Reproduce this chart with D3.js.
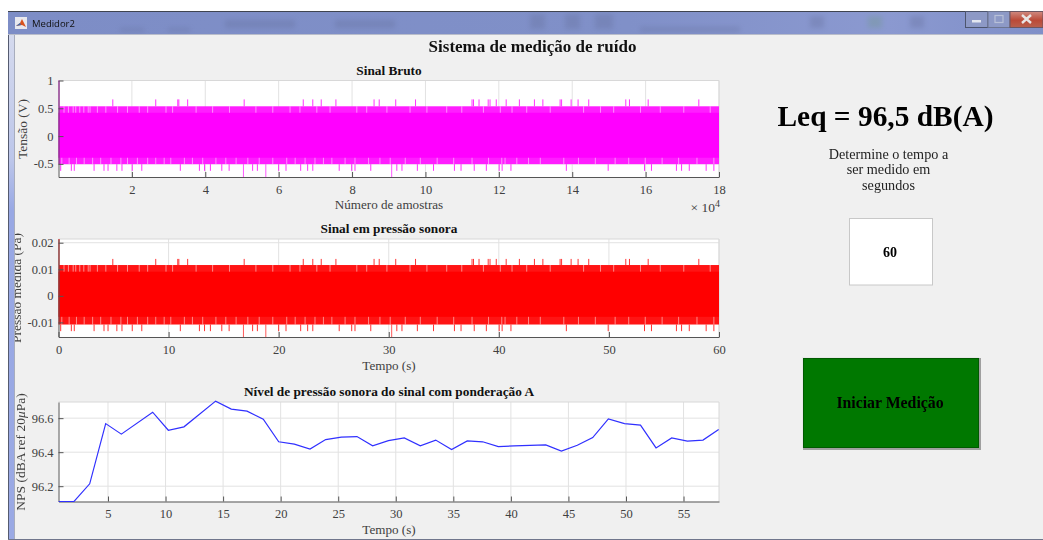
<!DOCTYPE html>
<meta charset="utf-8">
<style>
  body { margin: 0; background: #fff; }
  text { font-family: "Liberation Serif", serif; }
  svg { filter: blur(0.35px); }
</style>

<!-- Load d3.js -->
<script src="https://d3js.org/d3.v7.min.js"></script>

<div id="my_dataviz"></div>

<script>
    // sample positions (x 10^4) of the isolated peaks, same in both signal plots
    const upperPeaks = [1.48, 2.65, 3.25, 3.28, 3.52, 5.06, 6.67, 6.93, 7.16, 7.56, 8.60, 8.74, 9.19, 9.73,
      11.27, 11.31, 11.46, 11.71, 11.76, 11.93, 12.20, 12.56, 12.97, 13.20, 13.67, 13.71, 13.97,
      14.16, 14.45, 15.46, 15.56, 16.07, 17.45]
    const lowerPeaks = [0.06, 0.35, 0.43, 0.97, 1.24, 1.35, 1.59, 1.73, 2.01, 2.27, 3.32, 3.84, 3.98, 4.14,
      4.45, 4.65, 5.29, 5.42, 6.00, 6.20, 6.60, 6.79, 6.93, 7.65, 7.99, 8.08, 8.51, 9.22, 9.36, 9.78,
      10.22, 10.79, 10.97, 11.33, 11.66, 12.01, 12.09, 12.33, 13.84, 14.98, 15.97, 16.16, 16.84,
      16.98, 17.19, 17.65, 17.86]
    const deepPeaks = [5.04, 5.65, 9.08]

    // thin lighter streaks in the edge of the band
    const upperStreaks = [0.15, 0.27, 0.40, 0.47, 0.58, 0.69, 0.81, 0.86, 1.06, 1.29, 1.61, 1.88, 2.2, 2.43,
      2.93, 3.11, 3.75, 4.2, 4.66, 5.38, 5.84, 6.31, 6.58, 7.04, 7.4, 8.13, 8.4, 8.95, 9.58, 10.04,
      10.58, 10.99, 11.58, 12.04, 12.36, 12.76, 13.4, 14.31, 14.77, 15.13, 15.86, 16.4, 17.04, 17.76]
    const lowerStreaks = [0.09, 0.29, 0.49, 0.7, 0.93, 1.15, 1.43, 1.7, 1.88, 2.15, 2.43, 2.65, 2.88, 3.06,
      3.43, 3.65, 3.93, 4.29, 4.56, 4.84, 5.16, 5.47, 5.84, 6.22, 6.45, 6.72, 6.99, 7.22, 7.45, 7.81,
      8.08, 8.45, 8.76, 9.04, 9.45, 9.86, 10.32, 10.77, 11.27, 11.72, 12.08, 12.17, 12.49, 12.81,
      13.13, 13.77, 14.17, 14.63, 15.17, 15.54, 15.99, 16.45, 16.9, 17.4, 17.86]

    // amplitude levels of each signal: [band, edge of band, peak, deep peak]
    const rawUp = [0.42, 0.536, 0.66], rawDown = [-0.39, -0.505, -0.625, -0.736]
    const paUp = [0.0091, 0.0116, 0.0139], paDown = [-0.0079, -0.0108, -0.0133, -0.0155]

    // A-weighted level, one value every ~1.37 s
    const npsTime = [0.72, 2.05, 3.41, 4.80, 6.16, 8.88, 10.24, 11.60, 14.35, 15.71, 17.08, 18.49, 19.83,
      21.19, 22.55, 23.91, 25.27, 26.63, 27.99, 29.36, 30.74, 32.13, 33.47, 34.85, 36.21, 37.55,
      38.91, 40.27, 43.03, 44.39, 45.77, 47.11, 48.47, 49.87, 51.26, 52.61, 53.97, 55.33, 56.69, 58.05]
    const npsLevel = [96.11, 96.11, 96.214, 96.568, 96.506, 96.635, 96.529, 96.549, 96.70, 96.653, 96.641,
      96.594, 96.461, 96.447, 96.418, 96.474, 96.488, 96.492, 96.437, 96.468, 96.484, 96.437, 96.471,
      96.416, 96.466, 96.461, 96.433, 96.437, 96.443, 96.406, 96.441, 96.486, 96.596, 96.568, 96.559,
      96.425, 96.484, 96.465, 96.471, 96.533]

    // tick values and their labels
    const rawXTicks = [2, 4, 6, 8, 10, 12, 14, 16, 18]
    const rawYTicks = [1, 0.5, 0, -0.5]
    const rawYLabels = ["1", "0.5", "0", "-0.5"]
    const paXTicks = [0, 10, 20, 30, 40, 50, 60]
    const paYTicks = [0.02, 0.01, 0, -0.01]
    const paYLabels = ["0.02", "0.01", "0", "-0.01"]
    const npsXTicks = [5, 10, 15, 20, 25, 30, 35, 40, 45, 50, 55]
    const npsYTicks = [96.6, 96.4, 96.2]

    const descLines = ["Determine o tempo a", "ser medido em", "segundos"]

    const left = 58.5, right = 719

    // append the svg object to the body of the page
    const svg = d3.select("#my_dataviz")
      .append("svg")
      .attr("width", 1043)
      .attr("height", 540)
      .style("display", "block")

    const defs = svg.append("defs")
    defs.append("filter").attr("id", "ghost")
      .append("feGaussianBlur").attr("stdDeviation", 2.5)

    const barGrad = defs.append("linearGradient").attr("id", "bar")
    barGrad.append("stop").attr("offset", "0%").attr("stop-color", "#7d8dc6")
    barGrad.append("stop").attr("offset", "60%").attr("stop-color", "#8090c8")
    barGrad.append("stop").attr("offset", "85%").attr("stop-color", "#8b99d0")
    barGrad.append("stop").attr("offset", "100%").attr("stop-color", "#7f8fc8")

    const sideGrad = defs.append("linearGradient").attr("id", "side")
      .attr("x1", 0).attr("x2", 0).attr("y1", 0).attr("y2", 1)
    sideGrad.append("stop").attr("offset", "0%").attr("stop-color", "#d5daee")
    sideGrad.append("stop").attr("offset", "25%").attr("stop-color", "#bcc6ea")
    sideGrad.append("stop").attr("offset", "35%").attr("stop-color", "#98a8e4")
    sideGrad.append("stop").attr("offset", "100%").attr("stop-color", "#9aa9e4")

    const closeGrad = defs.append("linearGradient").attr("id", "close")
      .attr("x1", 0).attr("x2", 0).attr("y1", 0).attr("y2", 1)
    closeGrad.append("stop").attr("offset", "0%").attr("stop-color", "#d08a80")
    closeGrad.append("stop").attr("offset", "55%").attr("stop-color", "#bb4a38")
    closeGrad.append("stop").attr("offset", "100%").attr("stop-color", "#b8604e")

    // grey figure background
    svg.append("rect").attr("x", 14).attr("y", 34).attr("width", 1029).attr("height", 505)
      .attr("fill", "#f0f0f0")

    // one axes box: white plot, grid, then whatever draw() adds, then the axes on top
    function plot(o, draw) {
      const g = svg.append("g")
      const x = d3.scaleLinear().domain(o.xDomain).range([left, right])
      const y = d3.scaleLinear().domain(o.yDomain).range([o.bottom, o.top])

      g.append("rect")
        .attr("x", left).attr("y", o.top)
        .attr("width", right - left).attr("height", o.bottom - o.top)
        .attr("fill", "#fff")

      // Add the grid
      g.selectAll("vgrid").data(o.xTicks).join("line")
        .attr("x1", d => x(d)).attr("x2", d => x(d))
        .attr("y1", o.top).attr("y2", o.bottom)
        .attr("stroke", "#e2e2e2")
      g.selectAll("hgrid").data(o.yTicks).join("line")
        .attr("x1", left).attr("x2", right)
        .attr("y1", d => y(d)).attr("y2", d => y(d))
        .attr("stroke", "#e2e2e2")

      // top and right edge of the box
      g.append("path")
        .attr("d", `M${left},${o.top}H${right}V${o.bottom}`)
        .attr("fill", "none")
        .attr("stroke", "#d8d8d8")

      draw(g, x, y)

      g.append("g")
        .attr("transform", `translate(0,${o.bottom})`)
        .call(d3.axisBottom(x).tickValues(o.xTicks).tickFormat(d => d)
          .tickSizeInner(-5).tickSizeOuter(0).tickPadding(8))
      g.append("g")
        .attr("transform", `translate(${left},0)`)
        .call(d3.axisLeft(y).tickValues(o.yTicks)
          .tickFormat((d, i) => o.yLabels ? o.yLabels[i] : d)
          .tickSizeInner(-5).tickSizeOuter(0).tickPadding(5))

      g.selectAll(".domain").attr("stroke", "#555")
      g.selectAll(".tick line").attr("stroke", "#555")
      g.selectAll(".tick text")
        .attr("fill", "#404040")
        .style("font-family", '"Liberation Serif", serif')
        .style("font-size", "12.5px")

      // title and x label
      g.append("text")
        .attr("x", 389).attr("y", o.top - 6)
        .attr("text-anchor", "middle")
        .attr("font-weight", "bold")
        .attr("font-size", 13.3)
        .attr("fill", "#111")
        .text(o.title)
      g.append("text")
        .attr("x", 389).attr("y", o.xLabelY)
        .attr("text-anchor", "middle")
        .attr("font-size", 13.1)
        .attr("fill", "#404040")
        .text(o.xLabel)
    }

    // the noise band with its peaks, used for both signal plots
    function signal(g, x, y, t, up, down, color, soft) {
      // dense band and its streaky edge
      g.append("rect")
        .attr("x", x(t(0))).attr("width", x(t(18)) - x(t(0)))
        .attr("y", y(up[1])).attr("height", y(down[1]) - y(up[1]))
        .attr("fill", soft)
      g.append("rect")
        .attr("x", x(t(0))).attr("width", x(t(18)) - x(t(0)))
        .attr("y", y(up[0])).attr("height", y(down[0]) - y(up[0]))
        .attr("fill", color)

      g.selectAll("upstreak").data(upperStreaks).join("line")
        .attr("x1", d => x(t(d))).attr("x2", d => x(t(d)))
        .attr("y1", y(up[1])).attr("y2", y(up[0]))
        .attr("stroke", "#fff").attr("stroke-opacity", 0.5)
      g.selectAll("downstreak").data(lowerStreaks).join("line")
        .attr("x1", d => x(t(d))).attr("x2", d => x(t(d)))
        .attr("y1", y(down[0])).attr("y2", y(down[1]))
        .attr("stroke", "#fff").attr("stroke-opacity", 0.5)

      // isolated peaks
      g.selectAll("uppeak").data(upperPeaks).join("line")
        .attr("x1", d => x(t(d))).attr("x2", d => x(t(d)))
        .attr("y1", y(up[1])).attr("y2", y(up[2]))
        .attr("stroke", color).attr("stroke-opacity", 0.8)
      g.selectAll("downpeak").data(lowerPeaks).join("line")
        .attr("x1", d => x(t(d))).attr("x2", d => x(t(d)))
        .attr("y1", y(down[1])).attr("y2", y(down[2]))
        .attr("stroke", color).attr("stroke-opacity", 0.8)
      g.selectAll("deeppeak").data(deepPeaks).join("line")
        .attr("x1", d => x(t(d))).attr("x2", d => x(t(d)))
        .attr("y1", y(down[1])).attr("y2", y(down[3]))
        .attr("stroke", color).attr("stroke-opacity", 0.65)

      // first sample goes all the way up
      g.append("line")
        .attr("x1", x.range()[0] + 0.5).attr("x2", x.range()[0] + 0.5)
        .attr("y1", y.range()[1]).attr("y2", y(up[1]))
        .attr("stroke", color)
    }

    plot({
      top: 80.5, bottom: 177, xDomain: [0, 18], yDomain: [-0.736, 1],
      xTicks: rawXTicks, yTicks: rawYTicks, yLabels: rawYLabels,
      title: "Sinal Bruto", xLabel: "Número de amostras", xLabelY: 209
    }, (g, x, y) => signal(g, x, y, d => d, rawUp, rawDown, "#ff00ff", "#ff1eff"))

    plot({
      top: 239, bottom: 337, xDomain: [0, 60], yDomain: [-0.0155, 0.0214],
      xTicks: paXTicks, yTicks: paYTicks, yLabels: paYLabels,
      title: "Sinal em pressão sonora", xLabel: "Tempo (s)", xLabelY: 370
    }, (g, x, y) => signal(g, x, y, d => d * 10 / 3, paUp, paDown, "#ff0000", "#ff1414"))

    plot({
      top: 402, bottom: 501.5, xDomain: [0.7, 58.08], yDomain: [96.11, 96.695],
      xTicks: npsXTicks, yTicks: npsYTicks,
      title: "Nível de pressão sonora do sinal com ponderação A", xLabel: "Tempo (s)", xLabelY: 534
    }, (g, x, y) => {
      const line = d3.line().x(d => x(d[0])).y(d => y(d[1]))
      g.append("path")
        .attr("class", "nps-line")
        .datum(d3.zip(npsTime, npsLevel))
        .attr("d", line)
        .attr("fill", "none")
        .attr("stroke", "#3030ff")
        .attr("stroke-width", 1.2)
    })
    // the line lies on the axis at the start, keep it above
    d3.select(".nps-line").raise()

    // exponent of the first x axis
    const expo = svg.append("text")
      .attr("x", 720).attr("y", 212)
      .attr("text-anchor", "end")
      .attr("font-size", 13.5)
      .attr("fill", "#404040")
    expo.append("tspan").text("× 10")
    expo.append("tspan").attr("dy", -5).attr("font-size", 10).text("4")

    // y labels
    function yLabel(xPos, yPos) {
      return svg.append("text")
        .attr("transform", `translate(${xPos},${yPos}) rotate(-90)`)
        .attr("text-anchor", "middle")
        .attr("font-size", 13.5)
        .attr("fill", "#404040")
    }
    yLabel(27, 129).text("Tensão (V)")
    yLabel(21, 288).text("Pressão medida (Pa)")
    const npsLabel = yLabel(25, 452)
    npsLabel.append("tspan").text("NPS (dBA ref 20")
    npsLabel.append("tspan").attr("font-style", "italic").text("μ")
    npsLabel.append("tspan").text("Pa)")

    // figure title
    svg.append("text")
      .attr("x", 532.5).attr("y", 52)
      .attr("text-anchor", "middle")
      .attr("font-weight", "bold")
      .attr("font-size", 17)
      .attr("fill", "#111")
      .text("Sistema de medição de ruído")

    // right hand panel
    svg.append("text")
      .attr("x", 885.5).attr("y", 125.5)
      .attr("text-anchor", "middle")
      .attr("font-weight", "bold")
      .attr("font-size", 29.4)
      .attr("fill", "#000")
      .text("Leq = 96,5 dB(A)")

    svg.selectAll("desc").data(descLines).join("text")
      .attr("x", 888.5)
      .attr("y", (d, i) => 158.5 + i * 15.5)
      .attr("text-anchor", "middle")
      .attr("font-size", 14.2)
      .attr("fill", "#222")
      .text(d => d)

    svg.append("rect")
      .attr("x", 849.5).attr("y", 218.5).attr("width", 83).attr("height", 66.5)
      .attr("fill", "#fff").attr("stroke", "#c8c8c8")
    svg.append("text")
      .attr("x", 890).attr("y", 256.5)
      .attr("text-anchor", "middle")
      .attr("font-weight", "bold")
      .attr("font-size", 14)
      .attr("fill", "#000")
      .text("60")

    // start button
    svg.append("rect").attr("x", 803).attr("y", 358).attr("width", 178).attr("height", 92).attr("fill", "#a0a0a0")
    svg.append("rect").attr("x", 802).attr("y", 357).attr("width", 177).attr("height", 91).attr("fill", "#e8e8e8")
    svg.append("rect").attr("x", 803).attr("y", 358).attr("width", 176).attr("height", 90).attr("fill", "#007800")
    svg.append("rect")
      .attr("x", 803.5).attr("y", 358.5).attr("width", 175).attr("height", 89)
      .attr("fill", "none").attr("stroke", "#003c00").attr("stroke-dasharray", "1,1")
    svg.append("text")
      .attr("x", 890).attr("y", 408)
      .attr("text-anchor", "middle")
      .attr("font-weight", "bold")
      .attr("font-size", 15.8)
      .attr("fill", "#000")
      .text("Iniciar Medição")

    // window frame goes last, it cuts the y labels on the left
    const frame = svg.append("g")
    frame.append("rect").attr("x", 0).attr("y", 0).attr("width", 8.5).attr("height", 540).attr("fill", "#fff")
    frame.append("rect").attr("x", 8).attr("y", 34).attr("width", 7).attr("height", 505).attr("fill", "url(#side)")
    frame.append("rect").attr("x", 8).attr("y", 20).attr("width", 1).attr("height", 519).attr("fill", "#555b70")
    frame.append("rect").attr("x", 14).attr("y", 34).attr("width", 1).attr("height", 505).attr("fill", "#a8adbd")
    frame.append("rect").attr("x", 8).attr("y", 539).attr("width", 1035).attr("height", 1).attr("fill", "#70768c")

    // title bar
    frame.append("rect").attr("x", 8).attr("y", 12).attr("width", 1035).attr("height", 22).attr("fill", "url(#bar)")
    frame.append("rect").attr("x", 8).attr("y", 11).attr("width", 1035).attr("height", 1).attr("fill", "#3f4450")
    frame.append("rect").attr("x", 8).attr("y", 34).attr("width", 1035).attr("height", 1).attr("fill", "#b9bdca")

    // blurred toolbar showing through the glass
    const ghost = frame.append("g").attr("filter", "url(#ghost)").attr("fill", "#66719f").attr("opacity", 0.35)
    ghost.append("rect").attr("x", 225).attr("y", 20).attr("width", 70).attr("height", 8)
    ghost.append("rect").attr("x", 335).attr("y", 20).attr("width", 60).attr("height", 8)
    ghost.append("rect").attr("x", 120).attr("y", 28).attr("width", 24).attr("height", 4)
    ghost.append("rect").attr("x", 168).attr("y", 28).attr("width", 22).attr("height", 4)
    ghost.append("rect").attr("x", 530).attr("y", 14).attr("width", 15).attr("height", 15)
    ghost.append("rect").attr("x", 565).attr("y", 14).attr("width", 15).attr("height", 15)
    ghost.append("rect").attr("x", 595).attr("y", 14).attr("width", 18).attr("height", 15)
    ghost.append("rect").attr("x", 640).attr("y", 27).attr("width", 100).attr("height", 5)
    ghost.append("rect").attr("x", 810).attr("y", 16).attr("width", 14).attr("height", 12)
    ghost.append("rect").attr("x", 868).attr("y", 16).attr("width", 14).attr("height", 12).attr("fill", "#6f9a8a")
    ghost.append("rect").attr("x", 910).attr("y", 16).attr("width", 14).attr("height", 12)

    // matlab icon and window name
    frame.append("rect").attr("x", 15).attr("y", 17).attr("width", 12).attr("height", 12).attr("fill", "#e8e8ee")
    frame.append("path").attr("d", "M16,26L20,23L22,19L26,27L22,25Z").attr("fill", "#d9531e")
    frame.append("path").attr("d", "M16,26L20,23L21,25Z").attr("fill", "#3b6fb5")
    frame.append("text")
      .attr("x", 32).attr("y", 27)
      .attr("font-size", 9.5)
      .attr("fill", "#111")
      .style("font-family", '"Open Sans", sans-serif')
      .text("Medidor2")

    // window buttons
    frame.append("rect").attr("x", 965.5).attr("y", 11.5).attr("width", 22.5).attr("height", 16)
      .attr("fill", "#8d99c6").attr("stroke", "#4d556e")
    frame.append("rect").attr("x", 988).attr("y", 11.5).attr("width", 22).attr("height", 16)
      .attr("fill", "#8d99c6").attr("stroke", "#6d7590")
    frame.append("rect").attr("x", 1010).attr("y", 11.5).attr("width", 33).attr("height", 16)
      .attr("fill", "url(#close)").attr("stroke", "#6d5560")
    frame.append("rect").attr("x", 972).attr("y", 20).attr("width", 9).attr("height", 2.5).attr("fill", "#e4e7f0")
    frame.append("rect").attr("x", 995).attr("y", 15.5).attr("width", 8).attr("height", 7)
      .attr("fill", "none").attr("stroke", "#b8c0d8").attr("stroke-width", 1.2)
    frame.append("path").attr("d", "M1022,15L1031,23M1031,15L1022,23")
      .attr("stroke", "#e8e4e4").attr("stroke-width", 2.4)
</script>
